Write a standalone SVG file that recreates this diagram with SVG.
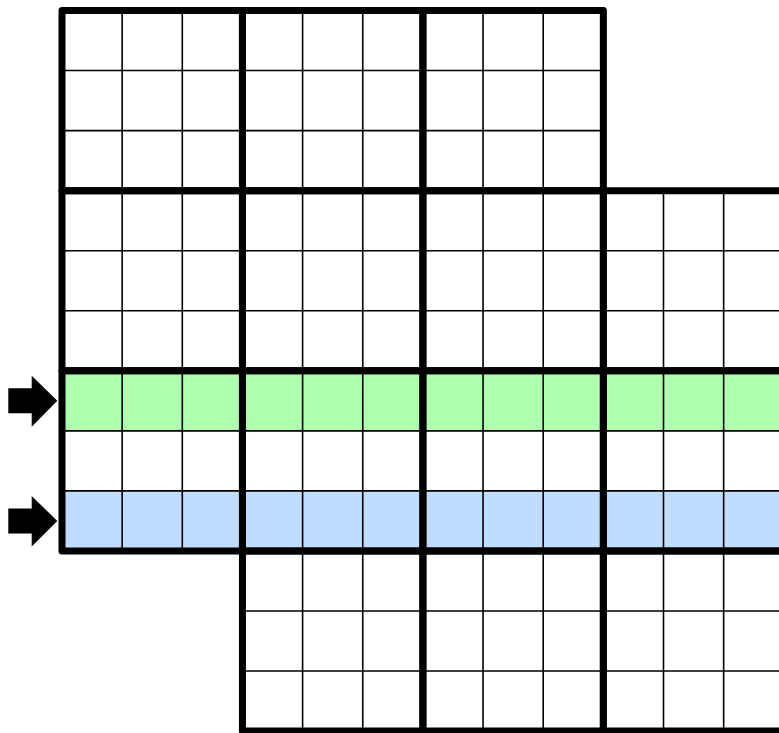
<svg xmlns="http://www.w3.org/2000/svg" xmlns:xlink="http://www.w3.org/1999/xlink" width="779" height="733" viewBox="0 0 779 733">
  <style>
    .thin { fill: none; stroke: #000; stroke-width: 1.6; }
    .thick { fill: none; stroke: #000; stroke-width: 7; stroke-linejoin: round; stroke-linecap: round; }
    .green { fill: #b0ffb0; }
    .blue { fill: #c0ddff; }
    .arrow { fill: #000; }
  </style>
  <defs>
    <g id="box">
      <path class="thin" d="M60.15,0V180.15M120.3,0V180.15M0,60.05H180.45M0,120.1H180.45"/>
      <rect class="thick" x="0" y="0" width="180.45" height="180.15"/>
    </g>
  </defs>
  <rect width="779" height="733" fill="#fff"/>
  <g id="highlights">
    <rect class="green" x="62" y="370.8" width="722" height="60.05"/>
    <rect class="blue" x="62" y="490.9" width="722" height="60.05"/>
  </g>
  <g id="box-r1-c1"><use xlink:href="#box" x="62" y="10.5"/></g>
  <g id="box-r1-c2"><use xlink:href="#box" x="242.45" y="10.5"/></g>
  <g id="box-r1-c3"><use xlink:href="#box" x="422.9" y="10.5"/></g>
  <g id="box-r2-c1"><use xlink:href="#box" x="62" y="190.65"/></g>
  <g id="box-r2-c2"><use xlink:href="#box" x="242.45" y="190.65"/></g>
  <g id="box-r2-c3"><use xlink:href="#box" x="422.9" y="190.65"/></g>
  <g id="box-r2-c4"><use xlink:href="#box" x="603.35" y="190.65"/></g>
  <g id="box-r3-c1"><use xlink:href="#box" x="62" y="370.8"/></g>
  <g id="box-r3-c2"><use xlink:href="#box" x="242.45" y="370.8"/></g>
  <g id="box-r3-c3"><use xlink:href="#box" x="422.9" y="370.8"/></g>
  <g id="box-r3-c4"><use xlink:href="#box" x="603.35" y="370.8"/></g>
  <g id="box-r4-c2"><use xlink:href="#box" x="242.45" y="550.95"/></g>
  <g id="box-r4-c3"><use xlink:href="#box" x="422.9" y="550.95"/></g>
  <g id="box-r4-c4"><use xlink:href="#box" x="603.35" y="550.95"/></g>
  <g id="connectors">
    <polygon class="arrow" points="8.3,388.3 31.7,388.3 31.7,375.7 57.3,400.8 31.7,426.7 31.7,413.3 8.3,413.3"/>
    <polygon class="arrow" points="8.3,508.5 31.7,508.5 31.7,496 57.3,520.9 31.7,546.5 31.7,533.5 8.3,533.5"/>
  </g>
</svg>
